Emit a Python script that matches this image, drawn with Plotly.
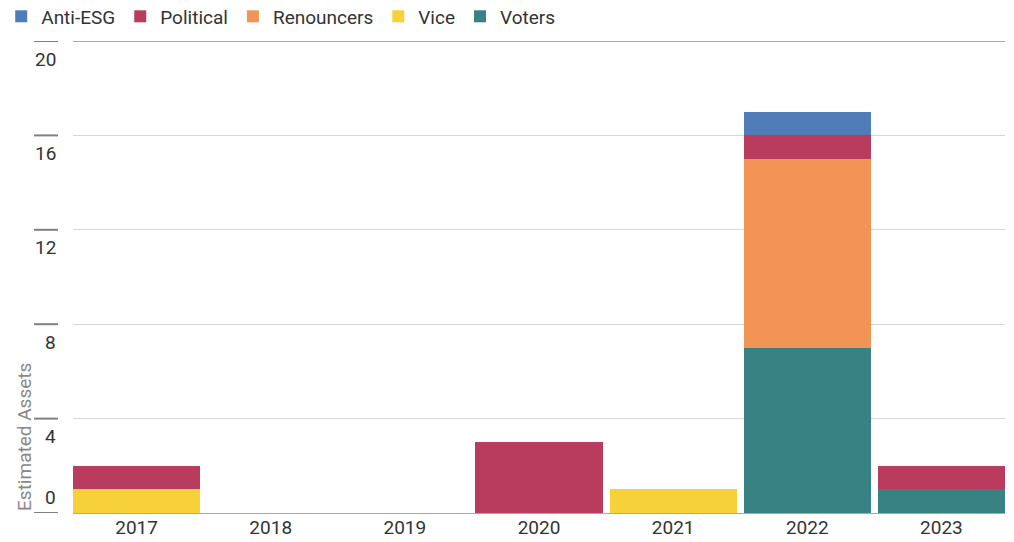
import plotly.graph_objects as go

years = ["2017", "2018", "2019", "2020", "2021", "2022", "2023"]
voters = [0, 0, 0, 0, 0, 7, 1]
vice = [1, 0, 0, 0, 1, 0, 0]
renouncers = [0, 0, 0, 0, 0, 8, 0]
political = [1, 0, 0, 3, 0, 1, 1]
anti_esg = [0, 0, 0, 0, 0, 1, 0]

y_ticks = [0, 4, 8, 12, 16, 20]
y_title = "Estimated Assets"

series = [
    ("Voters", voters, "#337E7F"),
    ("Vice", vice, "#F7D033"),
    ("Renouncers", renouncers, "#F29150"),
    ("Political", political, "#B7365A"),
    ("Anti-ESG", anti_esg, "#4A78B6"),
]

FONT = "Roboto, sans-serif"
FS = 19

fig = go.Figure()
for name, vals, color in series:
    fig.add_trace(go.Bar(
        x=years, y=vals, name=name,
        marker=dict(color=color, line=dict(width=0)),
        opacity=0.97,
    ))

bargap = 0.052
fig.update_layout(
    barmode="stack",
    bargap=bargap,
    width=1014, height=542,
    margin=dict(l=73, r=9, t=41, b=29, autoexpand=False),
    paper_bgcolor="white",
    plot_bgcolor="white",
    font=dict(family=FONT, size=FS, color="#333333"),
    legend=dict(
        orientation="h", traceorder="reversed",
        x=-0.077, xanchor="left", y=1.052, yanchor="middle",
        font=dict(family=FONT, size=FS, color="#333333"),
        itemwidth=30, tracegroupgap=0,
    ),
    showlegend=True,
)
fig.update_xaxes(
    range=[-0.5 + bargap / 2, 6.5 - bargap / 2],
    showgrid=False, showline=True, linecolor="#aaaaaa", linewidth=1,
    ticks="", ticklabelstandoff=-3,
    tickfont=dict(family=FONT, size=FS, color="#333333"),
)
fig.update_yaxes(
    range=[0, 20], tickvals=y_ticks, showticklabels=False,
    showgrid=True, gridcolor="#d6d6d6", gridwidth=1,
    zeroline=False, showline=False, ticks="",
)

for v in y_ticks:
    fig.add_shape(type="line", xref="paper", yref="y",
                  x0=-0.0418, x1=-0.0161, y0=v, y1=v,
                  line=dict(color="#808080", width=2))
    fig.add_annotation(
        xref="paper", yref="y", x=-0.0161, y=v,
        text=str(v), showarrow=False, xanchor="right",
        yanchor="middle", yshift=(16 if v == 0 else -18),
        font=dict(family=FONT, size=FS, color="#333333"),
    )
# darker top gridline
fig.add_shape(type="line", xref="paper", yref="y", x0=0, x1=1,
              y0=y_ticks[-1], y1=y_ticks[-1],
              line=dict(color="#aaaaaa", width=2), layer="below")

fig.add_annotation(
    xref="paper", yref="y", x=-0.0526, y=0,
    text=y_title, showarrow=False, textangle=-90,
    xanchor="center", yanchor="bottom",
    font=dict(family=FONT, size=FS, color="#888888"),
)

fig.write_html("out.html", config={"displayModeBar": False},
               post_script="document.body.style.margin='0';")
